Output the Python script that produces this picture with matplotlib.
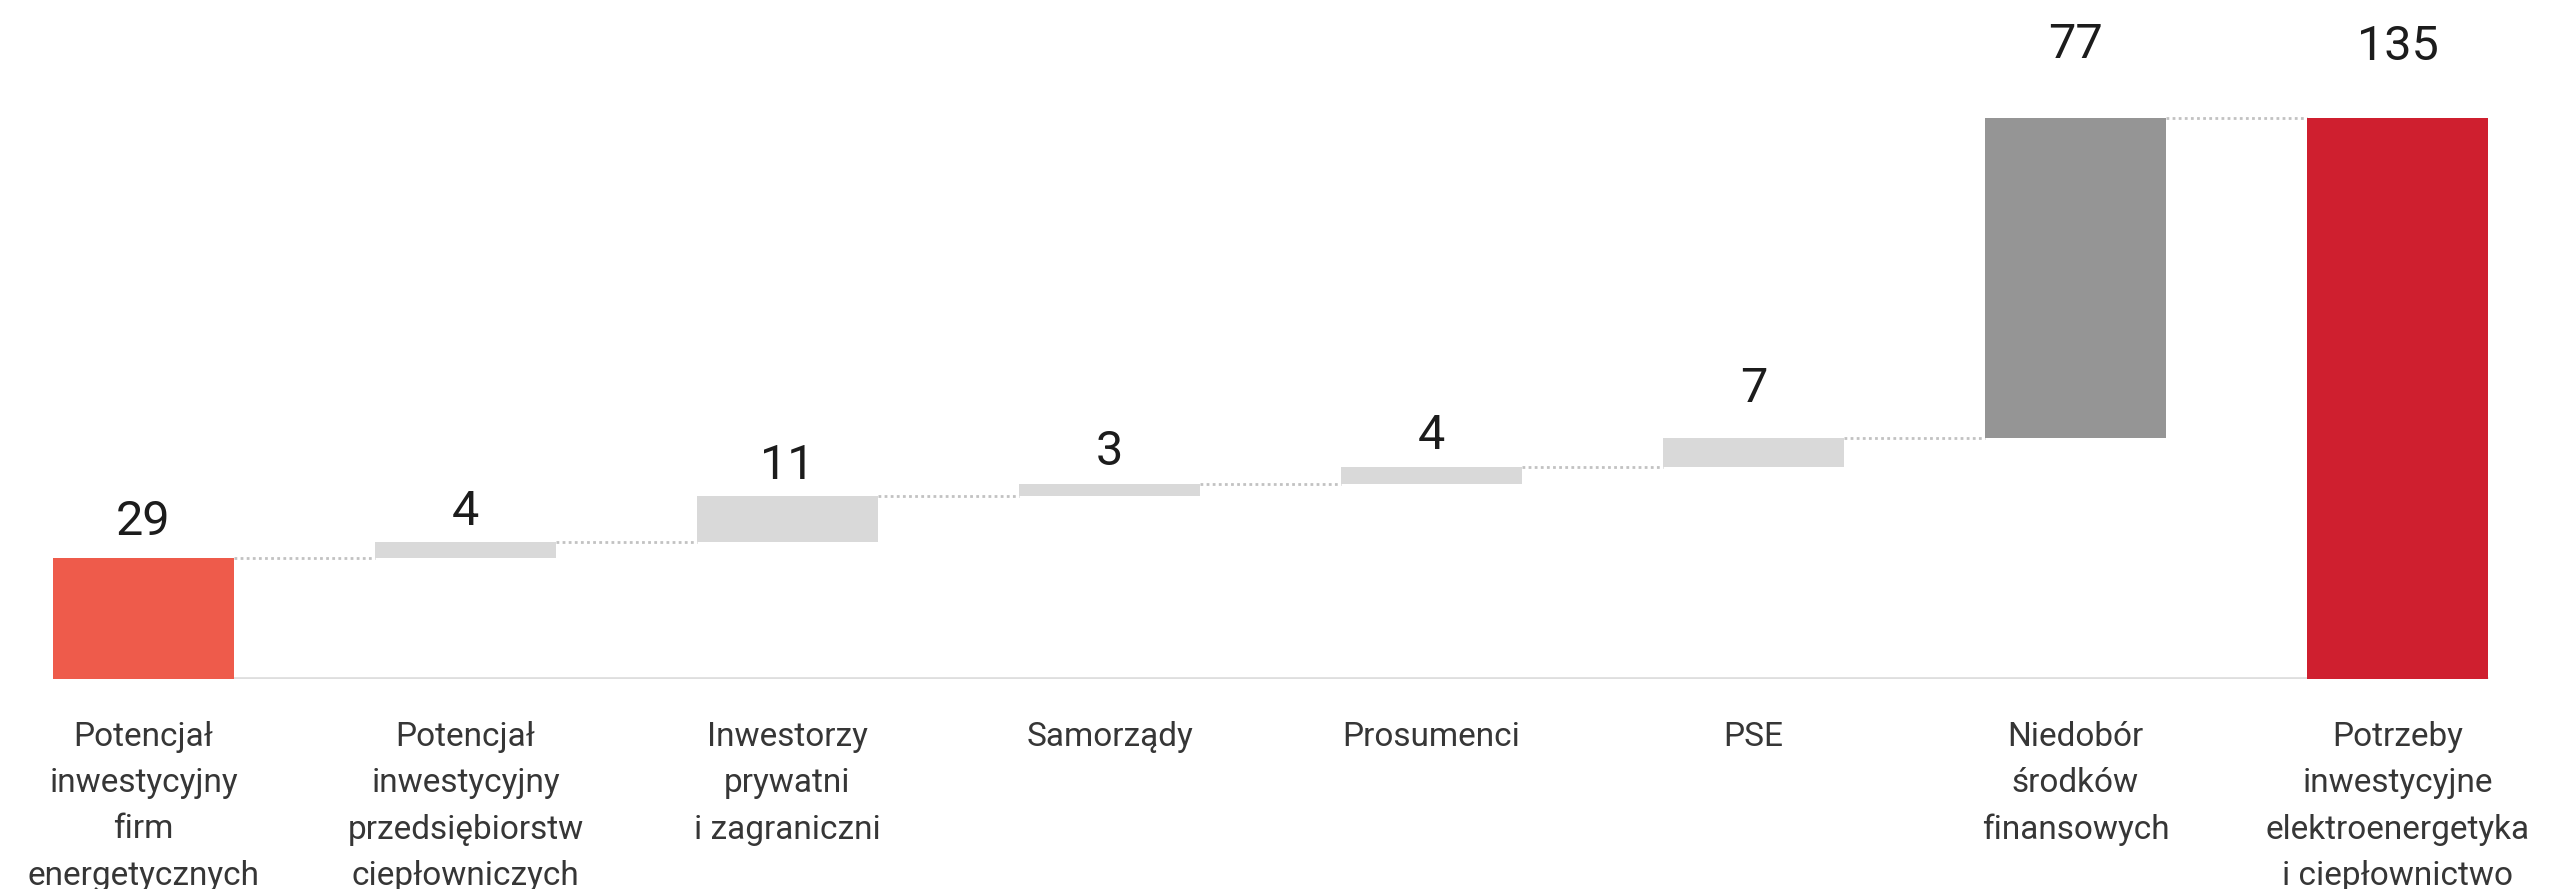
import numpy as np
import matplotlib
matplotlib.use("Agg")
import matplotlib.pyplot as plt

plt.rcParams['font.family'] = ['Roboto', 'DejaVu Sans']

# --- data -------------------------------------------------------------
categories = [
    "Potencjał\ninwestycyjny\nfirm\nenergetycznych",
    "Potencjał\ninwestycyjny\nprzedsiębiorstw\nciepłowniczych",
    "Inwestorzy\nprywatni\ni zagraniczni",
    "Samorządy",
    "Prosumenci",
    "PSE",
    "Niedobór\nśrodków\nfinansowych",
    "Potrzeby\ninwestycyjne\nelektroenergetyka\ni ciepłownictwo",
]
step_values = [29, 4, 11, 3, 4, 7, 77]   # contributions stacked left to right
total_value = 135                         # final column drawn from zero

# --- styling ----------------------------------------------------------
bar_colors = ["#EE5B4B", "#D9D9D9", "#D9D9D9", "#D9D9D9",
              "#D9D9D9", "#D9D9D9", "#959595", "#CF1F2F"]
label_gap_px = [23, 17, 17, 19, 18, 36, 60, 58]   # value label distance above bar
bar_width = 0.562

W, H, DPI = 2551, 889, 100
fig = plt.figure(figsize=(W / DPI, H / DPI), dpi=DPI)
fig.patch.set_facecolor("white")

base_px = 210          # baseline distance from figure bottom
ax = fig.add_axes([0, base_px / H, 1, 1 - base_px / H])
px_per_unit = 4.156
ax.set_ylim(0, (H - base_px) / px_per_unit)
ax.set_xlim(-143.5 / 322, (W - 143.5) / 322)
ax.axis("off")

# bar geometry
values = step_values + [total_value]
cum = np.cumsum(step_values)
bottoms = list(np.concatenate([[0], cum[:-1]])) + [0]
tops = [b + v for b, v in zip(bottoms, values)]
x = np.arange(len(values))

# baseline
ax.plot([x[0] - bar_width / 2, x[-1] + bar_width / 2], [0, 0],
        color="#DEDEDE", lw=3.4, solid_capstyle="butt", zorder=1)

ax.bar(x, values, bottom=bottoms, width=bar_width, color=bar_colors,
       linewidth=0, zorder=2)

# dotted connectors between consecutive columns
for i in range(len(values) - 1):
    level = tops[i]
    ax.plot([x[i] + bar_width / 2, x[i + 1] - bar_width / 2], [level, level],
            color="#C2C2C2", lw=2.0, linestyle=(0, (1, 1.2)), zorder=1)

# value labels
for i, v in enumerate(values):
    ax.annotate(f"{v}", xy=(x[i], tops[i]), xytext=(0, label_gap_px[i]),
                textcoords="offset pixels", ha="center", va="baseline",
                fontsize=35, color="#1C1C1C", annotation_clip=False)

# category labels
for i, name in enumerate(categories):
    ax.annotate(name, xy=(x[i], 0), xytext=(0, -42),
                textcoords="offset pixels", ha="center", va="top",
                fontsize=24, color="#363636", linespacing=1.57,
                annotation_clip=False)

fig.savefig("out.png", dpi=DPI, facecolor="white")
